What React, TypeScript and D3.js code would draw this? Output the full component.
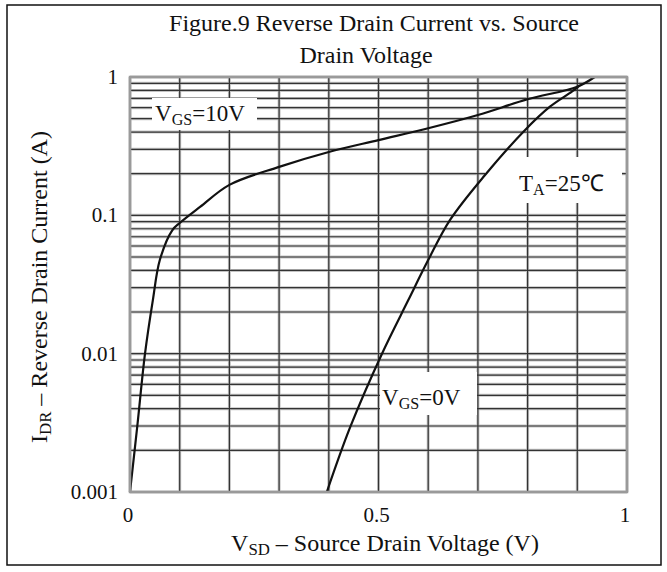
import { useEffect, useRef } from 'react';
import * as d3 from 'd3';

// data
const voltTicks = [0, 0.5, 1];
const currentTicks = [0.001, 0.01, 0.1, 1];
const currentTickLabels = ['0.001', '0.01', '0.1', '1'];

const vgs10Volt = [0, 0.0147, 0.0302, 0.046, 0.06, 0.085, 0.1, 0.141, 0.2, 0.3, 0.4, 0.5, 0.6, 0.7, 0.8, 0.9, 0.935];
const vgs10Curr = [0.001, 0.003, 0.01, 0.0244, 0.0475, 0.078, 0.088, 0.115, 0.166, 0.224, 0.287, 0.35, 0.426, 0.531, 0.69, 0.851, 1.0];

const vgs0Volt = [0.396, 0.443, 0.507, 0.56, 0.6, 0.644, 0.714, 0.795, 0.845, 0.889, 0.905];
const vgs0Curr = [0.001, 0.00294, 0.01, 0.0244, 0.0475, 0.0927, 0.195, 0.414, 0.61, 0.784, 0.87];

const FONT = '"Liberation Serif", "Times New Roman", serif';

export default function App() {
  const svgRef = useRef<SVGSVGElement>(null);

  useEffect(() => {
    if (!svgRef.current) return;
    const width = 667;
    const height = 572;
    const svg = d3.select(svgRef.current);
    svg.selectAll('*').remove();
    svg.attr('width', width).attr('height', height);

    svg.append('rect')
      .attr('width', width).attr('height', height).attr('fill', '#fff');

    // outer frame
    svg.append('rect')
      .attr('x', 7).attr('y', 5).attr('width', 654).attr('height', 560)
      .attr('fill', 'none').attr('stroke', '#111').attr('stroke-width', 1.5);

    const x0 = 130, x1 = 627, y0 = 77, y1 = 492;
    const x = d3.scaleLinear().domain([0, 1]).range([x0, x1]);
    const y = d3.scaleLog().domain([0.001, 1]).range([y1, y0]);

    // grid
    const vLines = d3.range(0, 11).map(i => i / 10);
    const hLines: number[] = [];
    [0.001, 0.01, 0.1].forEach(dec => {
      for (let k = 1; k < 10; k++) hLines.push(dec * k);
    });
    hLines.push(1);

    const grid = svg.append('g');
    [{ c: '#c4c4c4', w: 3 }, { c: '#333', w: 1.2 }].forEach(s => {
      grid.selectAll(null).data(vLines).enter().append('line')
        .attr('x1', d => x(d)).attr('x2', d => x(d))
        .attr('y1', y0).attr('y2', y1)
        .attr('stroke', s.c).attr('stroke-width', s.w);
      grid.selectAll(null).data(hLines).enter().append('line')
        .attr('x1', x0).attr('x2', x1)
        .attr('y1', d => y(d)).attr('y2', d => y(d))
        .attr('stroke', s.c).attr('stroke-width', s.w);
    });

    // white boxes behind the labels
    const boxes = [
      [152, 98, 105, 32],
      [380, 372, 97, 43],
      [485, 157, 137, 46],
    ];
    svg.selectAll(null).data(boxes).enter().append('rect')
      .attr('x', d => d[0]).attr('y', d => d[1])
      .attr('width', d => d[2]).attr('height', d => d[3])
      .attr('fill', '#fff');

    // curves
    const line = d3.line<[number, number]>()
      .x(d => x(d[0])).y(d => y(d[1]))
      .curve(d3.curveCatmullRom.alpha(0.5));
    const s10 = vgs10Volt.map((v, i) => [v, vgs10Curr[i]] as [number, number]);
    const s0 = vgs0Volt.map((v, i) => [v, vgs0Curr[i]] as [number, number]);
    [s10, s0].forEach(pts => {
      svg.append('path')
        .attr('d', line(pts))
        .attr('fill', 'none')
        .attr('stroke', '#111')
        .attr('stroke-width', 2.2);
    });

    // plot border
    svg.append('rect')
      .attr('x', x0).attr('y', y0).attr('width', x1 - x0).attr('height', y1 - y0)
      .attr('fill', 'none').attr('stroke', '#9a9a9a').attr('stroke-width', 2.5);

    const txt = (g: d3.Selection<any, any, any, any>) =>
      g.attr('font-family', FONT).attr('font-size', 23).attr('fill', '#111');

    // title
    svg.append('text').call(txt)
      .attr('x', 374).attr('y', 31).attr('text-anchor', 'middle')
      .attr('font-size', 24)
      .text('Figure.9 Reverse Drain Current vs. Source');
    svg.append('text').call(txt)
      .attr('x', 366).attr('y', 63).attr('text-anchor', 'middle')
      .attr('font-size', 24)
      .text('Drain Voltage');

    // tick labels
    svg.selectAll(null).data(voltTicks).enter().append('text').call(txt)
      .attr('font-size', 21)
      .attr('x', d => x(d) - 2).attr('y', 522).attr('text-anchor', 'middle')
      .text(d => String(d));
    svg.selectAll(null).data(currentTicks).enter().append('text').call(txt)
      .attr('font-size', 21)
      .attr('x', 118).attr('y', d => y(d) + 7).attr('text-anchor', 'end')
      .text((d, i) => currentTickLabels[i]);

    // axis titles with subscripts
    const sub = (t: d3.Selection<any, any, any, any>, main: string, s: string, rest: string) => {
      t.append('tspan').text(main);
      t.append('tspan').attr('font-size', '0.7em').attr('dy', 4).text(s);
      t.append('tspan').attr('dy', -4).text(rest);
    };
    const xt = svg.append('text').call(txt)
      .attr('font-size', 24)
      .attr('x', 385).attr('y', 551).attr('text-anchor', 'middle');
    sub(xt, 'V', 'SD', ' – Source Drain Voltage (V)');

    const yt = svg.append('text').call(txt)
      .attr('font-size', 24)
      .attr('transform', 'translate(47,287) rotate(-90)').attr('text-anchor', 'middle');
    sub(yt, 'I', 'DR', ' – Reverse Drain Current (A)');

    // curve labels
    const l1 = svg.append('text').call(txt).attr('x', 155).attr('y', 121);
    sub(l1, 'V', 'GS', '=10V');
    const l2 = svg.append('text').call(txt).attr('x', 382).attr('y', 405);
    sub(l2, 'V', 'GS', '=0V');
    const l3 = svg.append('text').call(txt).attr('x', 519).attr('y', 191);
    sub(l3, 'T', 'A', '=25℃');
  }, []);

  return (
    <div style={{ position: 'absolute', left: 0, top: 0 }}>
      <svg ref={svgRef} style={{ display: 'block' }}></svg>
    </div>
  );
}
